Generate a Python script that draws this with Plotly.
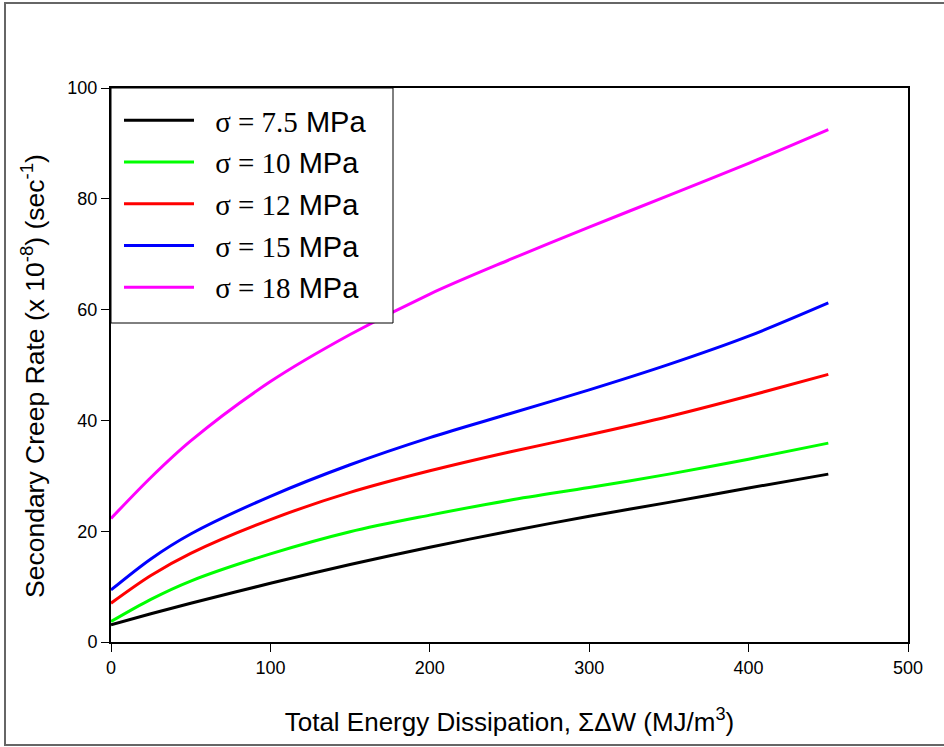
import plotly.graph_objects as go

x_vals = [0, 25, 50, 100, 150, 200, 250, 300, 350, 400, 450]

rate_7_5 = [3.1, 5.1, 7.0, 10.6, 14.0, 17.1, 20.0, 22.7, 25.2, 27.8, 30.3]
rate_10 = [3.7, 7.7, 11.0, 15.9, 19.9, 22.9, 25.6, 27.9, 30.3, 33.0, 35.9]
rate_12 = [7.0, 12.0, 16.0, 22.1, 27.0, 30.9, 34.3, 37.4, 40.7, 44.4, 48.3]
rate_15 = [9.4, 15.0, 19.5, 26.3, 32.0, 36.9, 41.2, 45.5, 50.1, 55.2, 61.2]
rate_18 = [22.3, 29.7, 36.3, 47.0, 55.5, 62.8, 69.0, 74.9, 80.6, 86.4, 92.5]

series_names = ["7.5", "10", "12", "15", "18"]
series_values = [rate_7_5, rate_10, rate_12, rate_15, rate_18]
series_colors = ["#000000", "#00ff00", "#ff0000", "#0000ff", "#ff00ff"]

x_ticks = [0, 100, 200, 300, 400, 500]
y_ticks = [0, 20, 40, 60, 80, 100]

x_title = "Total Energy Dissipation, ΣΔW (MJ/m<sup>3</sup>)"
y_title = "Secondary Creep Rate (x 10<sup>-8</sup>) (sec<sup>-1</sup>)"

SANS = "Arial, Liberation Sans, sans-serif"
SERIF = "Liberation Serif"

fig = go.Figure()
for i, (nm, vals, col) in enumerate(zip(series_names, series_values, series_colors)):
    label = f'&nbsp;&nbsp;<span style="font-family:{SERIF}">σ = {nm}</span> MPa&nbsp;'
    fig.add_trace(go.Scatter(
        x=x_vals, y=vals, mode="lines", name=label,
        line=dict(color=col, width=3, shape="spline", smoothing=0.9),
        legendgroup=f"g{i}",
    ))

W, H = 944, 747
L, R, T, B = 111, 36, 88, 105
pw, ph = W - L - R, H - T - B

def px_to_paper_x(px):
    return (px - L) / pw

def px_to_paper_y(py):
    return (H - B - py) / ph

# outer frame of the figure
fig.add_shape(type="rect", xref="paper", yref="paper",
              x0=px_to_paper_x(5), x1=px_to_paper_x(1000),
              y0=px_to_paper_y(745), y1=px_to_paper_y(3),
              line=dict(color="#666666", width=2), fillcolor="rgba(0,0,0,0)", layer="below")
# legend box
fig.add_shape(type="rect", xref="paper", yref="paper",
              x0=px_to_paper_x(111), x1=px_to_paper_x(393),
              y0=px_to_paper_y(323), y1=px_to_paper_y(88),
              line=dict(color="black", width=1), fillcolor="white", layer="above")

fig.add_annotation(text=y_title, xref="paper", yref="paper",
                   x=px_to_paper_x(33), y=px_to_paper_y(376),
                   xanchor="center", yanchor="middle", textangle=-90, showarrow=False,
                   font=dict(family=SANS, size=26.5, color="black"))

axis_common = dict(
    showgrid=False, zeroline=False, showline=True, linecolor="black", linewidth=2,
    mirror=True, ticks="outside", ticklen=8, tickwidth=1, tickcolor="black",
    tickfont=dict(family=SANS, size=18, color="black"),
)

fig.update_layout(
    width=W, height=H,
    margin=dict(l=L, r=R, t=T, b=B),
    paper_bgcolor="white", plot_bgcolor="white",
    showlegend=True,
    legend=dict(
        x=0, y=px_to_paper_y(95), xanchor="left", yanchor="top",
        bgcolor="rgba(0,0,0,0)", borderwidth=0,
        font=dict(family=SANS, size=29, color="black"),
        itemwidth=70, tracegroupgap=1, indentation=8,
    ),
    xaxis=dict(range=[0, 500], tickvals=x_ticks,
               title=dict(text=x_title,
                          font=dict(family=SANS, size=26, color="black"), standoff=36),
               **axis_common),
    yaxis=dict(range=[0, 100], tickvals=y_ticks, **axis_common),
)

fig.write_html("out.html")
